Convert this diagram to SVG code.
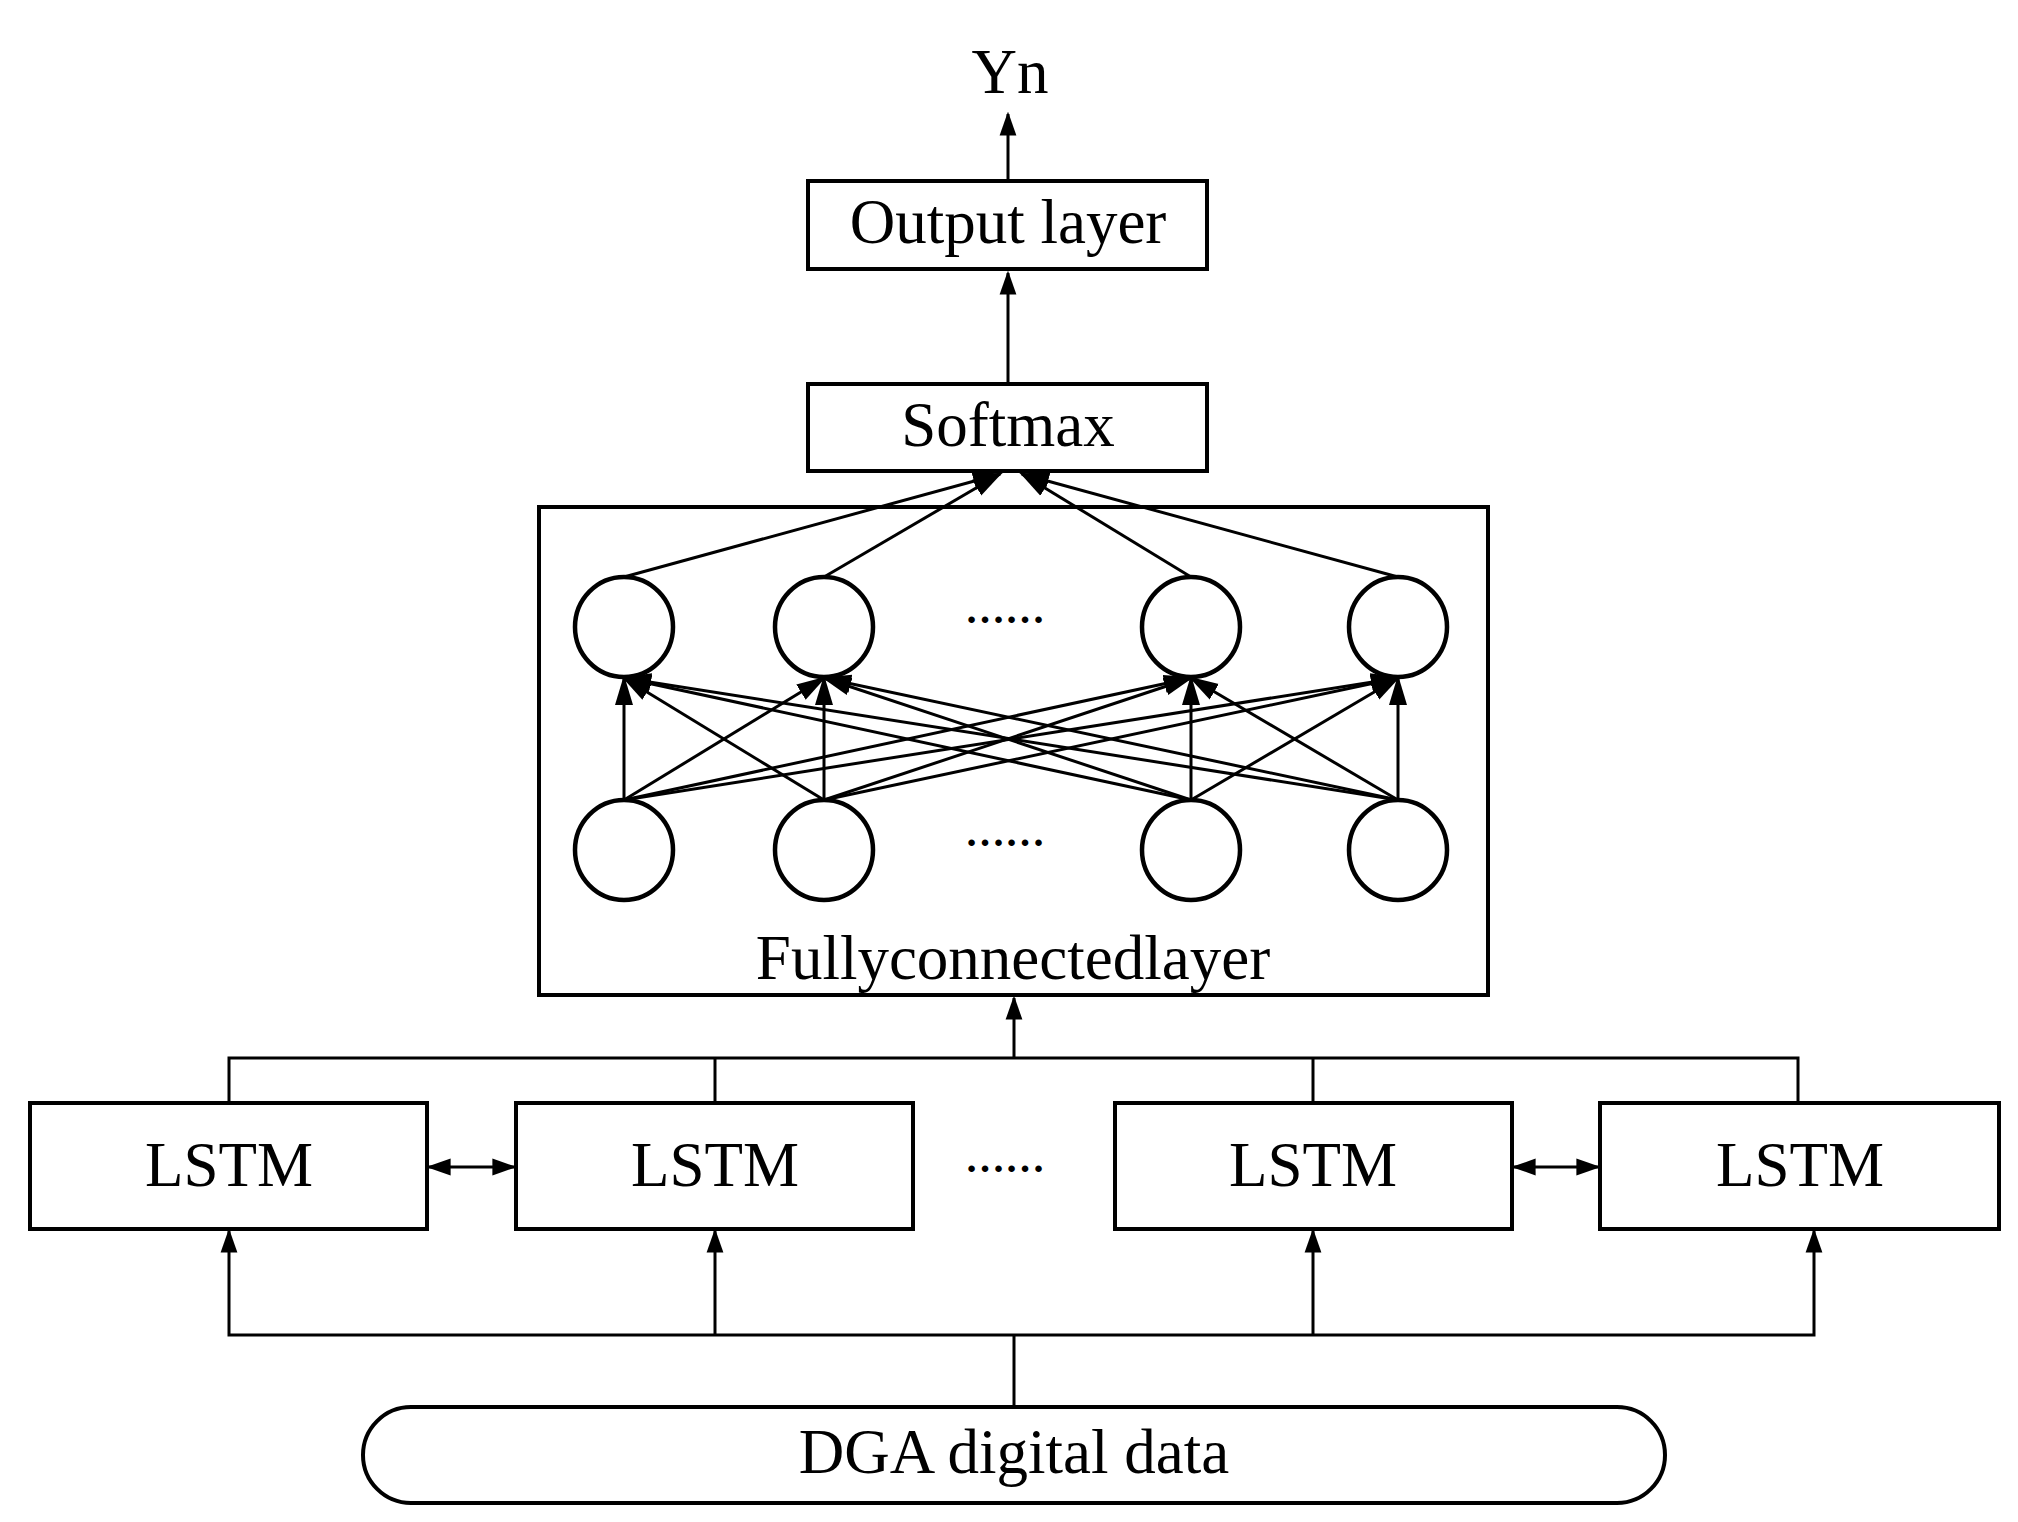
<svg xmlns="http://www.w3.org/2000/svg" width="2018" height="1522" viewBox="0 0 2018 1522">
<defs>
<marker id="ahs" viewBox="0 0 10 10" refX="9" refY="5" markerWidth="24" markerHeight="24" markerUnits="userSpaceOnUse" orient="auto-start-reverse"><path d="M0,1.5 L10,5 L0,8.5 z" fill="#000"/></marker>
<marker id="ahb" viewBox="0 0 10 10" refX="9" refY="5" markerWidth="30" markerHeight="30" markerUnits="userSpaceOnUse" orient="auto-start-reverse"><path d="M0,2 L10,5 L0,8 z" fill="#000"/></marker>
</defs>
<style>
.box{fill:#fff;stroke:#000;stroke-width:4}
.fcbox{fill:none;stroke:#000;stroke-width:4}
.t{font-family:"Liberation Serif","DejaVu Serif",serif;font-size:63px;text-anchor:middle;fill:#000}
.c{fill:#fff;stroke:#000;stroke-width:4.5}
.l{stroke:#000;stroke-width:3;fill:none}
.d{font-family:"Liberation Serif",serif;font-size:40px;text-anchor:middle;font-weight:bold}
</style>
<rect width="2018" height="1522" fill="#fff"/>
<text class="t" x="1010" y="93" font-size="70">Yn</text>
<g id="output"><rect class="box" x="808" y="181" width="399" height="88"/><text class="t" x="1008" y="243">Output layer</text></g>
<g id="softmax"><rect class="box" x="808" y="384" width="399" height="87"/><text class="t" x="1008" y="446">Softmax</text></g>
<g id="fc">
<rect class="fcbox" x="539" y="507" width="949" height="488"/>
<ellipse class="c" cx="624" cy="627" rx="49" ry="50"/><ellipse class="c" cx="824" cy="627" rx="49" ry="50"/><ellipse class="c" cx="1191" cy="627" rx="49" ry="50"/><ellipse class="c" cx="1398" cy="627" rx="49" ry="50"/>
<ellipse class="c" cx="624" cy="850" rx="49" ry="50"/><ellipse class="c" cx="824" cy="850" rx="49" ry="50"/><ellipse class="c" cx="1191" cy="850" rx="49" ry="50"/><ellipse class="c" cx="1398" cy="850" rx="49" ry="50"/>
<text class="d" x="1005" y="623">……</text>
<text class="d" x="1005" y="846">……</text>
<text class="t" x="1013" y="979">Fullyconnectedlayer</text>
</g>
<g id="lstm1"><rect class="box" x="30" y="1103" width="397" height="126"/><text class="t" x="229" y="1186">LSTM</text></g>
<g id="lstm2"><rect class="box" x="516" y="1103" width="397" height="126"/><text class="t" x="715" y="1186">LSTM</text></g>
<text class="d" x="1005" y="1172">……</text>
<g id="lstm3"><rect class="box" x="1115" y="1103" width="397" height="126"/><text class="t" x="1313" y="1186">LSTM</text></g>
<g id="lstm4"><rect class="box" x="1600" y="1103" width="399" height="126"/><text class="t" x="1800" y="1186">LSTM</text></g>
<g id="dga"><rect class="box" x="363" y="1407" width="1302" height="96" rx="48"/><text class="t" x="1014" y="1473">DGA digital data</text></g>
<g id="connectors">
<line class="l" x1="1008" y1="181" x2="1008" y2="114" marker-end="url(#ahs)"/>
<line class="l" x1="1008" y1="384" x2="1008" y2="273" marker-end="url(#ahs)"/>
<g marker-end="url(#ahb)" class="l" stroke-width="4">
<line x1="624" y1="577" x2="1000" y2="474"/>
<line x1="824" y1="577" x2="1000" y2="474"/>
<line x1="1191" y1="577" x2="1022" y2="474"/>
<line x1="1398" y1="577" x2="1022" y2="474"/>
</g>
<g marker-end="url(#ahb)" class="l" stroke-width="3.5">
<line x1="624" y1="800" x2="624" y2="678"/><line x1="624" y1="800" x2="824" y2="678"/><line x1="624" y1="800" x2="1191" y2="678"/><line x1="624" y1="800" x2="1398" y2="678"/>
<line x1="824" y1="800" x2="624" y2="678"/><line x1="824" y1="800" x2="824" y2="678"/><line x1="824" y1="800" x2="1191" y2="678"/><line x1="824" y1="800" x2="1398" y2="678"/>
<line x1="1191" y1="800" x2="624" y2="678"/><line x1="1191" y1="800" x2="824" y2="678"/><line x1="1191" y1="800" x2="1191" y2="678"/><line x1="1191" y1="800" x2="1398" y2="678"/>
<line x1="1398" y1="800" x2="624" y2="678"/><line x1="1398" y1="800" x2="824" y2="678"/><line x1="1398" y1="800" x2="1191" y2="678"/><line x1="1398" y1="800" x2="1398" y2="678"/>
</g>
<polyline class="l" stroke-width="4" points="229,1103 229,1058 1798,1058 1798,1103"/>
<line class="l" stroke-width="4" x1="715" y1="1058" x2="715" y2="1103"/>
<line class="l" stroke-width="4" x1="1313" y1="1058" x2="1313" y2="1103"/>
<line class="l" stroke-width="6" x1="1014" y1="1058" x2="1014" y2="998" marker-end="url(#ahs)"/>
<line class="l" x1="429" y1="1167" x2="514" y2="1167" marker-start="url(#ahs)" marker-end="url(#ahs)"/>
<line class="l" x1="1514" y1="1167" x2="1598" y2="1167" marker-start="url(#ahs)" marker-end="url(#ahs)"/>
<polyline class="l" stroke-width="4" points="229,1231 229,1335 1814,1335 1814,1231" marker-start="url(#ahs)" marker-end="url(#ahs)"/>
<line class="l" stroke-width="4" x1="715" y1="1335" x2="715" y2="1231" marker-end="url(#ahs)"/>
<line class="l" stroke-width="4" x1="1313" y1="1335" x2="1313" y2="1231" marker-end="url(#ahs)"/>
<line class="l" stroke-width="4" x1="1014" y1="1335" x2="1014" y2="1407"/>
</g>
</svg>
